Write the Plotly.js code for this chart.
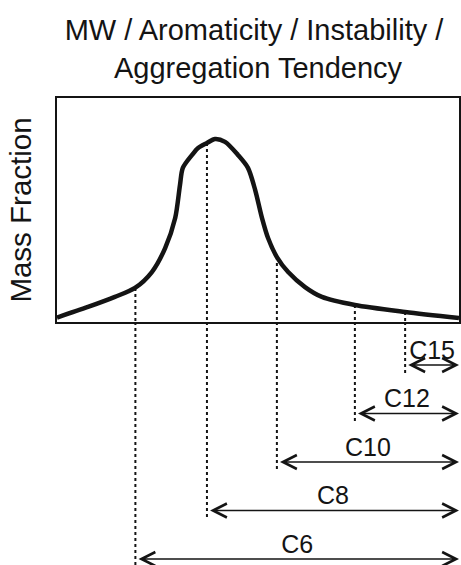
<!DOCTYPE html>
<html>
<head>
<meta charset="utf-8">
<script src="https://cdn.plot.ly/plotly-3.0.1.min.js"></script>
<style>
  html, body { margin: 0; padding: 0; background: #ffffff; }
  #chart { width: 461px; height: 565px; }
</style>
</head>
<body>
<div id="chart"></div>
<script>
// ---- data ----
// distribution curve (arbitrary boiling / carbon-number scale 0-100, mass fraction 0-1)
const curveX = [0, 7.7, 14.4, 19.4, 23.6, 26.9, 29.4, 30.6, 31.3, 33.6, 35.1, 37.3, 39.3, 41.8, 45.0, 47.5, 49.3, 51.0, 52.5, 54.7, 57.5, 61.7, 65.9, 74.1, 86.6, 100];
const curveY = [0.02, 0.067, 0.112, 0.152, 0.223, 0.33, 0.464, 0.612, 0.688, 0.746, 0.777, 0.799, 0.817, 0.804, 0.746, 0.688, 0.589, 0.464, 0.375, 0.29, 0.223, 0.156, 0.112, 0.076, 0.045, 0.018];

// cut-off fractions (heaviest end is the right edge of the chart)
const fractionLabels = ['C6', 'C8', 'C10', 'C12', 'C15'];
const cutoffX = [19.5, 37.3, 54.7, 74.1, 86.6];
const cutoffY = [0.152, 0.799, 0.29, 0.076, 0.045];
const rangeEnd = 100;

const titleLines = ['MW / Aromaticity / Instability /', 'Aggregation Tendency'];
const yTitleText = 'Mass Fraction';

// ---- layout helpers ----
const FONT = 'Liberation Sans, Arial, Helvetica, sans-serif';
const INK = '#141414';
const W = 461, H = 565;
const plotTop = 98, plotBottom = 322, bottomMargin = 0;
const areaH = H - plotTop - bottomMargin;
const split = (H - bottomMargin - plotBottom) / areaH;
// lower panel: row index -> pixel  (row spacing ~48.5 px)
const rowStep = 48.5, row0 = plotBottom - 5.5;
const y2Top = (plotBottom - row0) / rowStep;
const y2Bottom = (H - bottomMargin - row0) / rowStep;

const n = fractionLabels.length;
const rows = fractionLabels.map((_, i) => n - i); // C15 first row, C6 last row

// dashed guide lines
const dashTopX = [], dashTopY = [], dashBotX = [], dashBotY = [];
cutoffX.forEach((cx, i) => {
  dashTopX.push(cx, cx, null); dashTopY.push(cutoffY[i], 0, null);
  dashBotX.push(cx, cx, null); dashBotY.push(y2Top, rows[i] + 0.19, null);
});

const traces = [
  { x: dashTopX, y: dashTopY, xaxis: 'x', yaxis: 'y', mode: 'lines',
    line: { color: INK, width: 2, dash: '3px,3px' }, hoverinfo: 'skip', showlegend: false },
  { x: dashBotX, y: dashBotY, xaxis: 'x2', yaxis: 'y2', mode: 'lines',
    line: { color: INK, width: 2, dash: '3px,3px' }, hoverinfo: 'skip', showlegend: false },
  { x: curveX, y: curveY, xaxis: 'x', yaxis: 'y', mode: 'lines',
    line: { color: INK, width: 4.5, shape: 'spline', smoothing: 0.8 }, showlegend: false },
  { x: cutoffX.map(c => (c + rangeEnd) / 2), y: rows, xaxis: 'x2', yaxis: 'y2', mode: 'text',
    text: fractionLabels, textposition: 'top center',
    textfont: { family: FONT, size: 25, color: INK }, hoverinfo: 'skip', showlegend: false }
];

const annotations = cutoffX.map((cx, i) => ({
  xref: 'x2', yref: 'y2', axref: 'x2', ayref: 'y2',
  x: rangeEnd, y: rows[i], ax: cx + 0.4, ay: rows[i],
  text: '', showarrow: true, arrowside: 'end+start',
  arrowhead: 5, startarrowhead: 5, arrowsize: 1.6, startarrowsize: 1.6,
  arrowwidth: 1.7, arrowcolor: INK, standoff: 0, startstandoff: 0
}));

const layout = {
  width: W, height: H,
  margin: { l: 57, r: 2, t: plotTop, b: bottomMargin, pad: 0 },
  paper_bgcolor: '#ffffff', plot_bgcolor: '#ffffff',
  font: { family: FONT, color: INK },
  title: {
    text: titleLines.join(' <br>'),
    font: { family: FONT, size: 29, color: INK },
    x: 0.5, xref: 'paper', xanchor: 'center',
    y: 1 - 40 / H, yref: 'container', yanchor: 'top'
  },
  xaxis: {
    domain: [0, 1], range: [0, rangeEnd], anchor: 'y',
    showline: true, linecolor: INK, linewidth: 2, mirror: true,
    showgrid: false, zeroline: false, showticklabels: false, ticks: ''
  },
  yaxis: {
    domain: [split, 1], range: [0, 1], anchor: 'x',
    showline: true, linecolor: INK, linewidth: 2, mirror: true,
    showgrid: false, zeroline: false, showticklabels: false, ticks: '',
    title: { text: yTitleText, font: { family: FONT, size: 29.5, color: INK }, standoff: 15 }
  },
  xaxis2: {
    domain: [0, 1], range: [0, rangeEnd], anchor: 'y2', matches: 'x', visible: false
  },
  yaxis2: {
    domain: [0, split], range: [y2Bottom, y2Top], anchor: 'x2', visible: false
  },
  annotations: annotations,
  showlegend: false
};

Plotly.newPlot('chart', traces, layout, { staticPlot: true, displayModeBar: false });
</script>
</body>
</html>
